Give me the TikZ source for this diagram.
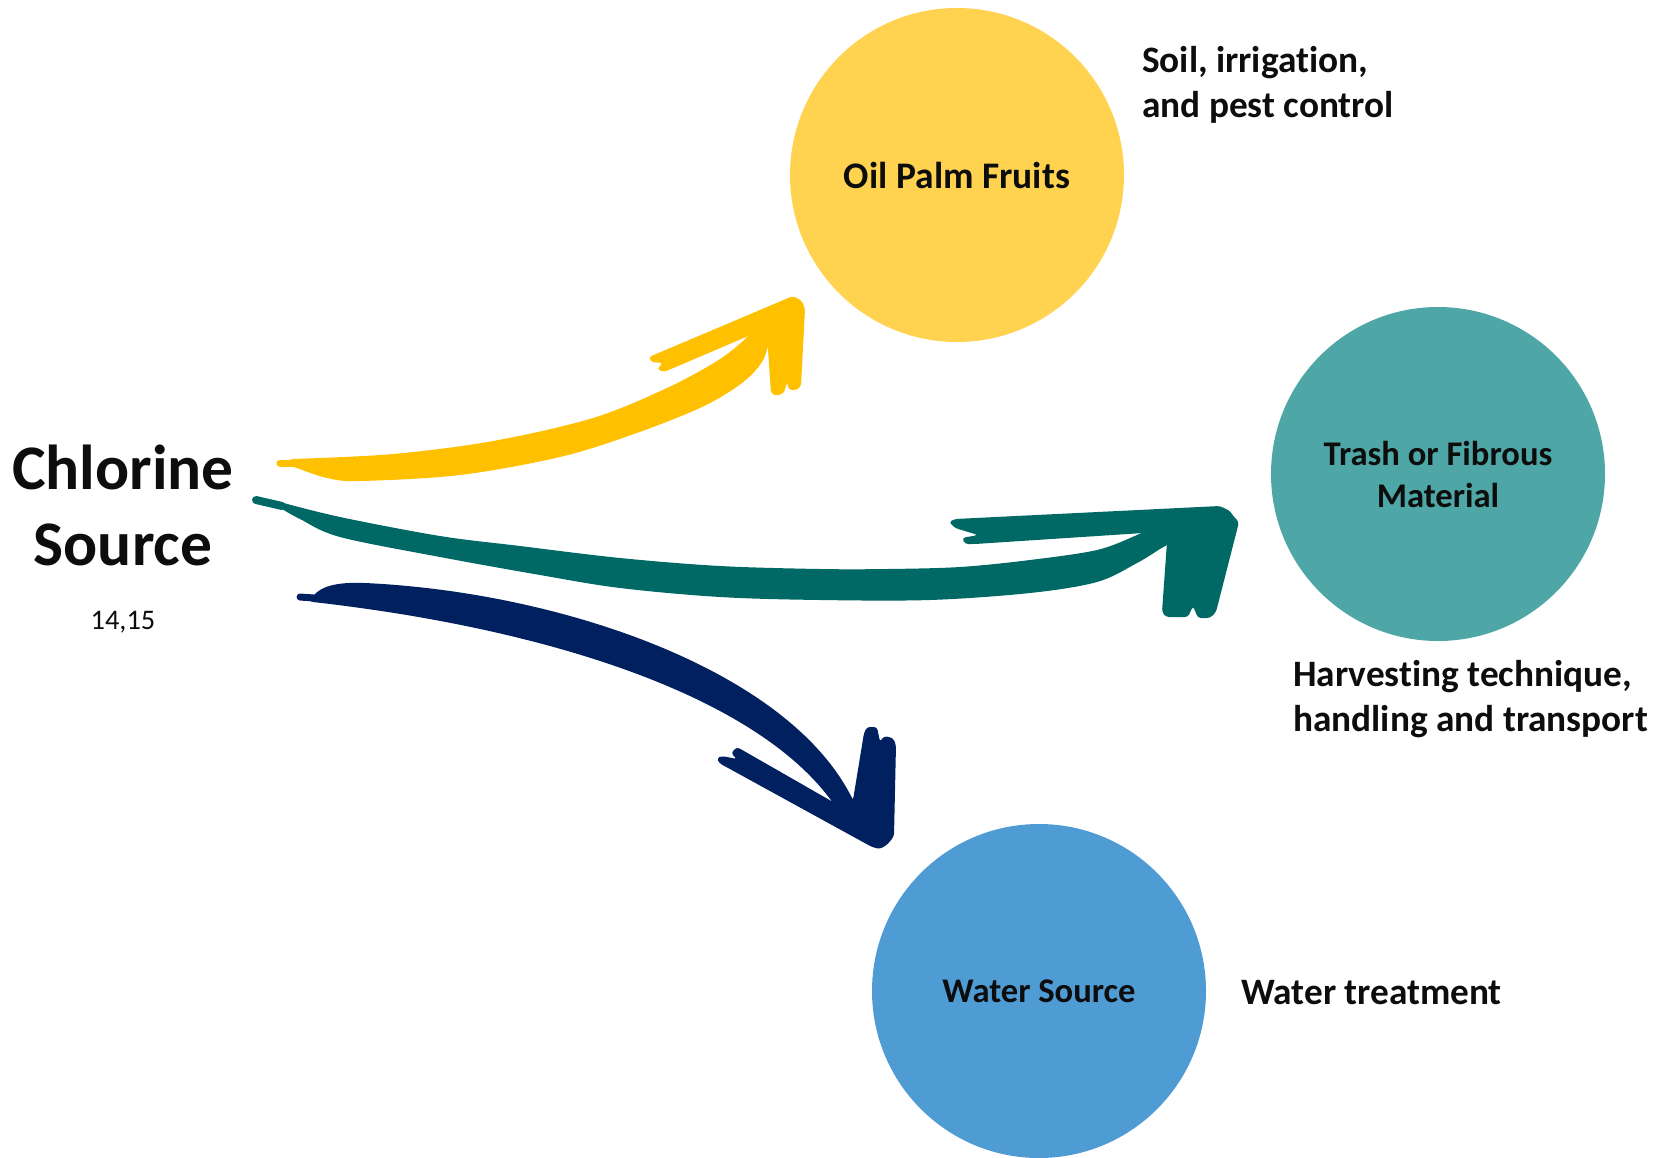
\documentclass[tikz,border=0pt]{standalone}
\usepackage{fontspec}
\setmainfont{Carlito}[Ligatures=NoCommon]
\definecolor{palmYellow}{HTML}{FFD34F}
\definecolor{trashTeal}{HTML}{4EA7A6}
\definecolor{waterBlue}{HTML}{4F9BD4}
\definecolor{brushYellow}{HTML}{FFC000}
\definecolor{brushTeal}{HTML}{006865}
\definecolor{brushNavy}{HTML}{002060}
\definecolor{ink}{HTML}{0D0D0D}
\begin{document}
\begin{tikzpicture}[x=1pt,y=-1pt,
  every node/.style={inner sep=0pt, text=ink},
  noteFont/.style={font=\bfseries\fontsize{37.3}{45}\selectfont},
  bubble/.style={circle, minimum size=334pt, inner sep=0pt, align=center},
  note/.style={noteFont, align=left, anchor=base west},
  nib/.style={line width=7pt, line cap=round},
  head/.style={rounded corners=3pt}
]
\useasboundingbox (0,0) rectangle (1663,1157);

% --- circles ---
\node[bubble, fill=palmYellow, font=\bfseries\fontsize{37.5}{45}\selectfont] (palm)  at (957,175)  {Oil Palm Fruits};
\node[bubble, fill=trashTeal, font=\bfseries\fontsize{34.6}{42}\selectfont]  (trash) at (1438,474) {Trash or Fibrous\\Material};
\node[bubble, fill=waterBlue, font=\bfseries\fontsize{34.6}{42}\selectfont]  (water) at (1039,991) {Water Source};

% --- side notes (anchored on the last line's baseline) ---
\node[note] (soilnote)    at (1142,117)  {Soil, irrigation,\\and pest control};
\node[note] (harvestnote) at (1293,731)  {Harvesting technique,\\handling and transport};
\node[note] (waternote)   at (1241,1004) {Water treatment};

% --- source ---
\node[font=\bfseries\fontsize{63.5}{76}\selectfont, align=center] (source) at (123,505.5) {Chlorine\\Source};
\node[font=\fontsize{28.4}{34}\selectfont, anchor=base] (refs) at (123,629) {14,15};

% --- brush arrow ends ---
\coordinate (yTail) at (280,463);
\coordinate (yTip)  at (793,296);
\coordinate (tTail) at (256,500);
\coordinate (tTip)  at (1220,506);
\coordinate (nTail) at (300,597);
\coordinate (nTip)  at (880,849);

% --- yellow brush arrow ---
\begin{scope}[fill=brushYellow, draw=brushYellow]
\fill (yTail) -- plot[smooth, tension=0.55] coordinates {(293,459) (393,454) (493,441) (593,418) (667,388) (717,361) (743,341) (755,328)}
  -- (770,328) -- plot[smooth, tension=0.55] coordinates {(769,342) (762,362) (742,383) (702,407) (634,434) (560,457) (460,475) (360,481) (327,478) (297,468)} -- cycle;
\draw[nib] (yTail) -- (296,463);
\fill[head] (yTip) -- (802,301) -- (805,309) -- (801,386) -- (797,390) -- (789,390) -- (787,382) -- (784,393) -- (776,396) -- (771,393)
  -- (767,335) -- (753,334) -- (664,372) -- (657,369) -- (663,363) -- (651,362) -- (649,357) -- cycle;
\end{scope}

% --- teal brush arrow ---
\begin{scope}[fill=brushTeal, draw=brushTeal]
\fill (tTail) -- plot[smooth, tension=0.55] coordinates {(280,502) (340,517) (440,536) (520,546) (620,558) (720,566) (820,569) (887,569) (960,567) (1030,560) (1097,550) (1137,535) (1150,528)}
  -- (1168,530) -- plot[smooth, tension=0.55] coordinates {(1167,545) (1160,549) (1137,563) (1097,582) (1030,593) (930,600) (820,600) (720,597) (620,588) (540,575) (440,557) (340,537) (300,519) (282,509)} -- cycle;
\draw[nib, line width=8pt] (tTail) -- (282,506);
\fill[head] (tTip) -- (1230,511) -- (1234,517) -- (1239,522) -- (1216,612) -- (1210,618) -- (1198,618) -- (1193,606) -- (1188,617) -- (1166,617) -- (1162,612)
  -- (1167,542) -- (1143,533) -- (975,544) -- (965,544) -- (962,538) -- (978,535) -- (955,528) -- (949,522) -- (955,519) -- cycle;
\end{scope}

% --- navy brush arrow ---
\begin{scope}[fill=brushNavy, draw=brushNavy]
\fill (nTail) -- (313,596) .. controls (322,585) and (340,582) .. (365,583)
  .. controls (560,592) and (790,670) .. (853,800)
  -- (845,806) -- (833,803) .. controls (760,700) and (560,630) .. (313,602) -- cycle;
\draw[nib] (nTail) -- (314,598);
\fill[head] (nTip) -- (872,847) -- (719,763) -- (717,758) -- (722,756) -- (737,759) -- (731,753) -- (737,747) -- (833,802) -- (853,800)
  -- (864,733) -- (867,727) -- (877,727) -- (880,742) -- (884,736) -- (893,738) -- (896,745) -- (894,836) -- (888,844) -- cycle;
\end{scope}
\end{tikzpicture}
\end{document}
